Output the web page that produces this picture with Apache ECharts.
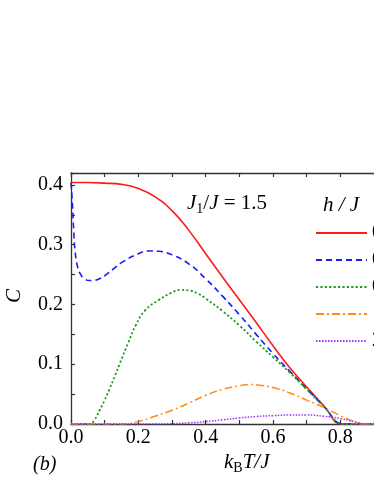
<!DOCTYPE html>
<html>
<head>
<meta charset="utf-8">
<script src="https://cdn.jsdelivr.net/npm/echarts@6/dist/echarts.min.js"></script>
<style>
  html, body { margin: 0; padding: 0; background: #fff; }
  #chart { width: 374px; height: 484px; }
</style>
</head>
<body>
<div id="chart"></div>
<script>
// 数据
const legendNames = ['0', '0.5', '0.8', '1.2', '2']

const tRed = [0, 0.05, 0.1, 0.15, 0.2, 0.25, 0.3, 0.35, 0.4, 0.45, 0.5, 0.55, 0.6, 0.65, 0.7, 0.75, 0.803, 0.806, 0.9]
const cRed = [0.404, 0.404, 0.403, 0.401, 0.394, 0.380, 0.357, 0.324, 0.285, 0.246, 0.208, 0.170, 0.131, 0.094, 0.062, 0.031, 0, 0, 0]

const tBlue = [0, 0.004, 0.008, 0.012, 0.02, 0.03, 0.04, 0.055, 0.07, 0.085, 0.1, 0.125, 0.15, 0.2, 0.23, 0.26, 0.3, 0.35, 0.4, 0.45, 0.5, 0.55, 0.6, 0.65, 0.7, 0.75, 0.808, 0.811, 0.9]
const cBlue = [0.404, 0.37, 0.325, 0.29, 0.262, 0.249, 0.243, 0.240, 0.2405, 0.243, 0.248, 0.259, 0.270, 0.285, 0.2895, 0.289, 0.283, 0.268, 0.243, 0.214, 0.183, 0.150, 0.118, 0.088, 0.059, 0.030, 0, 0, 0]

const tGreen = [0, 0.053, 0.056, 0.07, 0.085, 0.1, 0.114, 0.13, 0.144, 0.17, 0.193, 0.22, 0.261, 0.3, 0.325, 0.35, 0.378, 0.4, 0.45, 0.5, 0.55, 0.6, 0.65, 0.7, 0.75, 0.81, 0.813, 0.9]
const cGreen = [0, 0, 0, 0.007, 0.023, 0.040, 0.058, 0.080, 0.100, 0.136, 0.166, 0.190, 0.2075, 0.220, 0.2245, 0.2235, 0.218, 0.210, 0.189, 0.165, 0.138, 0.112, 0.086, 0.058, 0.030, 0, 0, 0]

const tOrange = [0, 0.15, 0.2, 0.25, 0.3, 0.35, 0.4, 0.45, 0.5, 0.53, 0.56, 0.6, 0.65, 0.7, 0.75, 0.8, 0.84, 0.86, 0.9]
const cOrange = [0, 0, 0.004, 0.013, 0.023, 0.035, 0.048, 0.058, 0.064, 0.066, 0.065, 0.061, 0.052, 0.040, 0.028, 0.014, 0.004, 0, 0]

const tPurple = [0, 0.25, 0.3, 0.35, 0.4, 0.45, 0.5, 0.55, 0.6, 0.65, 0.7, 0.75, 0.8, 0.85, 0.88, 0.9]
const cPurple = [0, 0, 0.0005, 0.002, 0.004, 0.007, 0.010, 0.0125, 0.014, 0.015, 0.015, 0.013, 0.009, 0.003, 0, 0]

const xTicks = { min: 0, max: 0.9, interval: 0.2 }
const yTicks = { min: 0, max: 0.42, interval: 0.1 }

const serif = 'Liberation Serif'
const axisColor = '#333'

function pairs(t, c) {
    return t.map((v, i) => [v, c[i]])
}

function makeSeries(name, t, c, color, type, width) {
    return {
        name: name,
        type: 'line',
        data: pairs(t, c),
        symbol: 'none',
        smooth: 0.5,
        lineStyle: { color: color, width: width, type: type },
        itemStyle: { color: color },
        z: 3
    }
}

const tickStyle = {
    show: true, inside: true, length: 4,
    lineStyle: { color: axisColor, width: 1.2 }
}
const minorStyle = { show: true, splitNumber: 2, length: 4, lineStyle: { color: axisColor, width: 1.2 } }

let options = {
    animation: false,
    backgroundColor: '#fff',
    grid: { left: 71, top: 173, right: -7, bottom: 60 },
    xAxis: [
        {
            type: 'value',
            min: xTicks.min, max: xTicks.max, interval: xTicks.interval,
            axisLine: { lineStyle: { color: axisColor, width: 1.3 } },
            axisTick: tickStyle,
            minorTick: minorStyle,
            splitLine: { show: false },
            axisLabel: {
                margin: 4, color: '#000', fontFamily: serif, fontSize: 20,
                showMaxLabel: false,
                formatter: (v) => v.toFixed(1)
            }
        },
        {
            type: 'value', position: 'top',
            min: xTicks.min, max: xTicks.max, interval: xTicks.interval,
            axisLine: { show: true, lineStyle: { color: axisColor, width: 1.3 } },
            axisTick: tickStyle,
            minorTick: minorStyle,
            splitLine: { show: false },
            axisLabel: { show: false }
        }
    ],
    yAxis: {
        type: 'value',
        min: yTicks.min, max: yTicks.max, interval: yTicks.interval,
        axisLine: { show: true, lineStyle: { color: axisColor, width: 1.3 } },
        axisTick: tickStyle,
        minorTick: minorStyle,
        splitLine: { show: false },
        axisLabel: {
            margin: 8, color: '#000', fontFamily: serif, fontSize: 20,
            showMaxLabel: false,
            formatter: (v) => v.toFixed(1)
        }
    },
    legend: {
        orient: 'vertical',
        left: 310, top: 218,
        itemWidth: 51, itemHeight: 20, itemGap: 7,
        itemStyle: { opacity: 0 },
        textStyle: { fontFamily: serif, fontSize: 20, color: '#000', lineHeight: 20 },
        data: legendNames
    },
    graphic: [
        {
            type: 'text', left: 187, top: 193,
            style: {
                text: '{i|J}{s|1}{n|/}{i|J}{n| = 1.5}',
                rich: {
                    i: { fontFamily: serif, fontStyle: 'italic', fontSize: 21, lineHeight: 26, fill: '#000' },
                    n: { fontFamily: serif, fontSize: 21, lineHeight: 26, fill: '#000' },
                    s: { fontFamily: serif, fontSize: 14, lineHeight: 14, verticalAlign: 'bottom', fill: '#000' }
                }
            }
        },
        {
            type: 'text', left: 323, top: 195,
            style: {
                text: '{i|h}{n| / }{i|J}',
                rich: {
                    i: { fontFamily: serif, fontStyle: 'italic', fontSize: 21, fill: '#000' },
                    n: { fontFamily: serif, fontStyle: 'italic', fontSize: 21, fill: '#000' }
                }
            }
        },
        {
            type: 'text', left: 224, top: 452,
            style: {
                text: '{i|k}{s|B}{i|T/J}',
                rich: {
                    i: { fontFamily: serif, fontStyle: 'italic', fontSize: 21, lineHeight: 26, fill: '#000' },
                    s: { fontFamily: serif, fontSize: 14, lineHeight: 14, verticalAlign: 'bottom', fill: '#000' }
                }
            }
        },
        {
            type: 'text', left: 33, top: 455,
            style: { text: '(b)', fontFamily: serif, fontStyle: 'italic', fontSize: 20, fill: '#000' }
        },
        {
            type: 'text', x: 14, y: 296, rotation: Math.PI / 2,
            style: {
                text: 'C', fontFamily: serif, fontStyle: 'italic', fontSize: 21, fill: '#000',
                align: 'center', verticalAlign: 'middle'
            }
        }
    ],
    series: [
        makeSeries(legendNames[0], tRed, cRed, '#ff1a1a', 'solid', 1.6),
        makeSeries(legendNames[1], tBlue, cBlue, '#1a1aff', [6, 4], 1.6),
        makeSeries(legendNames[2], tGreen, cGreen, '#1f9a1f', [2.2, 2.2], 1.8),
        makeSeries(legendNames[3], tOrange, cOrange, '#ff8c1a', [8, 3, 2, 3], 1.5),
        makeSeries(legendNames[4], tPurple, cPurple, '#9933ff', [1.5, 1.5], 1.5)
    ]
}

let chart = echarts.init(document.getElementById('chart'))
chart.setOption(options)
</script>
</body>
</html>
